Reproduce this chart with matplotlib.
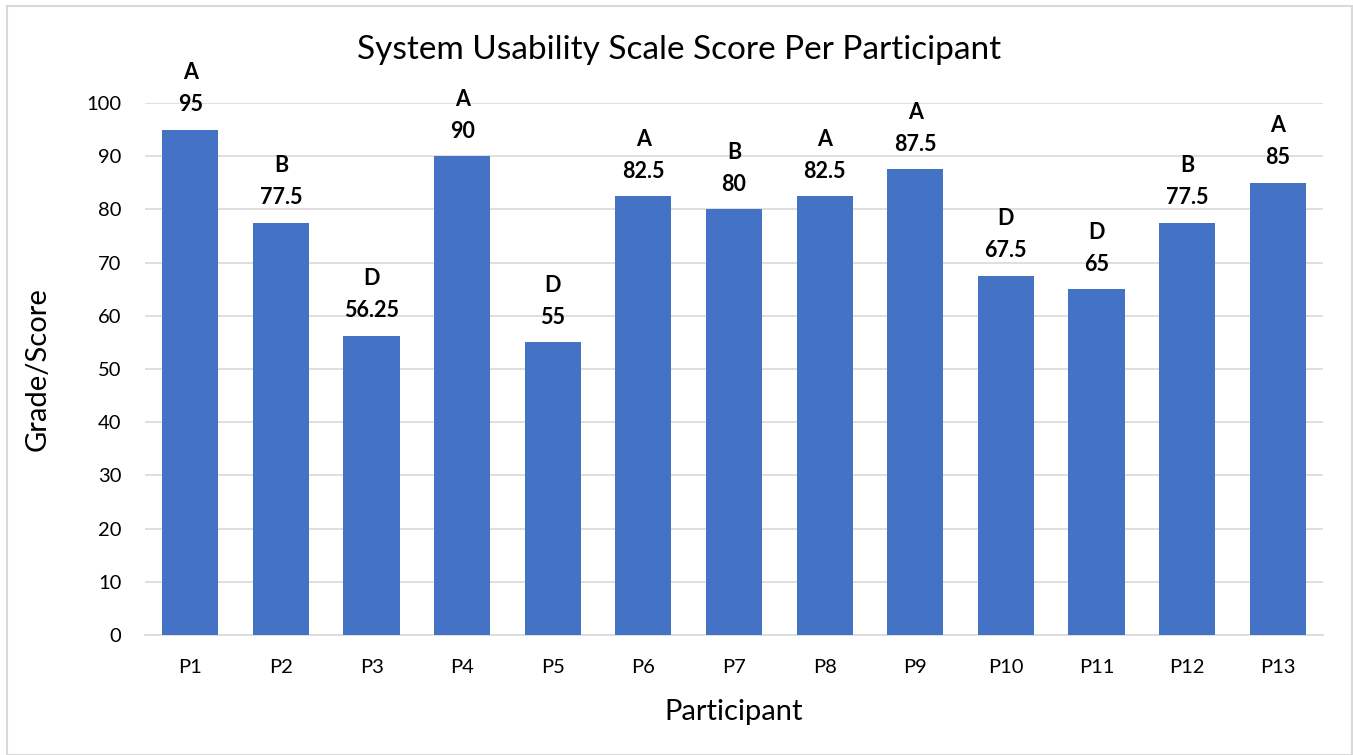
import matplotlib
matplotlib.use('Agg')
import matplotlib.pyplot as plt
from matplotlib.patches import Rectangle

participants = ['P1', 'P2', 'P3', 'P4', 'P5', 'P6', 'P7', 'P8', 'P9', 'P10', 'P11', 'P12', 'P13']
scores = [95, 77.5, 56.25, 90, 55, 82.5, 80, 82.5, 87.5, 67.5, 65, 77.5, 85]
grades = ['A', 'B', 'D', 'A', 'D', 'A', 'B', 'A', 'A', 'D', 'D', 'B', 'A']
yticks = [0, 10, 20, 30, 40, 50, 60, 70, 80, 90, 100]

plt.rcParams['font.family'] = ['Lato', 'DejaVu Sans']

fig = plt.figure(figsize=(13.53, 7.55), dpi=100)
ax = fig.add_axes([0.1072, 0.159, 0.8706, 0.7046])

# chart area border
fig.patches.append(Rectangle((0.005, 0.0), 0.994, 0.992, transform=fig.transFigure,
                             fill=False, edgecolor='#D9D9D9', linewidth=1.5))

x = range(len(participants))
ax.bar(x, scores, width=0.62, color='#4472C4', zorder=3)

for i, (s, g) in enumerate(zip(scores, grades)):
    ax.annotate(f'{s:g}', (i, s), xytext=(0, 18), textcoords='offset points',
                ha='center', va='center', fontsize=15.5, fontweight='bold', color='black')
    ax.annotate(g, (i, s), xytext=(0, 41), textcoords='offset points',
                ha='center', va='center', fontsize=15.5, fontweight='bold', color='black')

ax.set_xlim(-0.5, len(participants) - 0.5)
ax.set_ylim(0, 100)
ax.set_yticks(yticks)
ax.set_xticks(list(x))
ax.set_xticklabels(participants)
ax.tick_params(axis='both', length=0, labelsize=14.5, colors='black')
ax.tick_params(axis='x', pad=17)
ax.tick_params(axis='y', pad=17)
ax.grid(axis='y', color='#D9D9D9', linewidth=1.2, zorder=0)
for sp in ['top', 'right', 'left']:
    ax.spines[sp].set_visible(False)
ax.spines['bottom'].set_color('#D9D9D9')
ax.spines['bottom'].set_linewidth(1.2)

ax.set_xlabel('Participant', fontsize=21, labelpad=17)
ax.set_ylabel('Grade/Score', fontsize=21, labelpad=26)
fig.text(0.502, 0.934, 'System Usability Scale Score Per Participant', ha='center', va='center', fontsize=24)

fig.savefig('out.png', dpi=100, facecolor='white')
